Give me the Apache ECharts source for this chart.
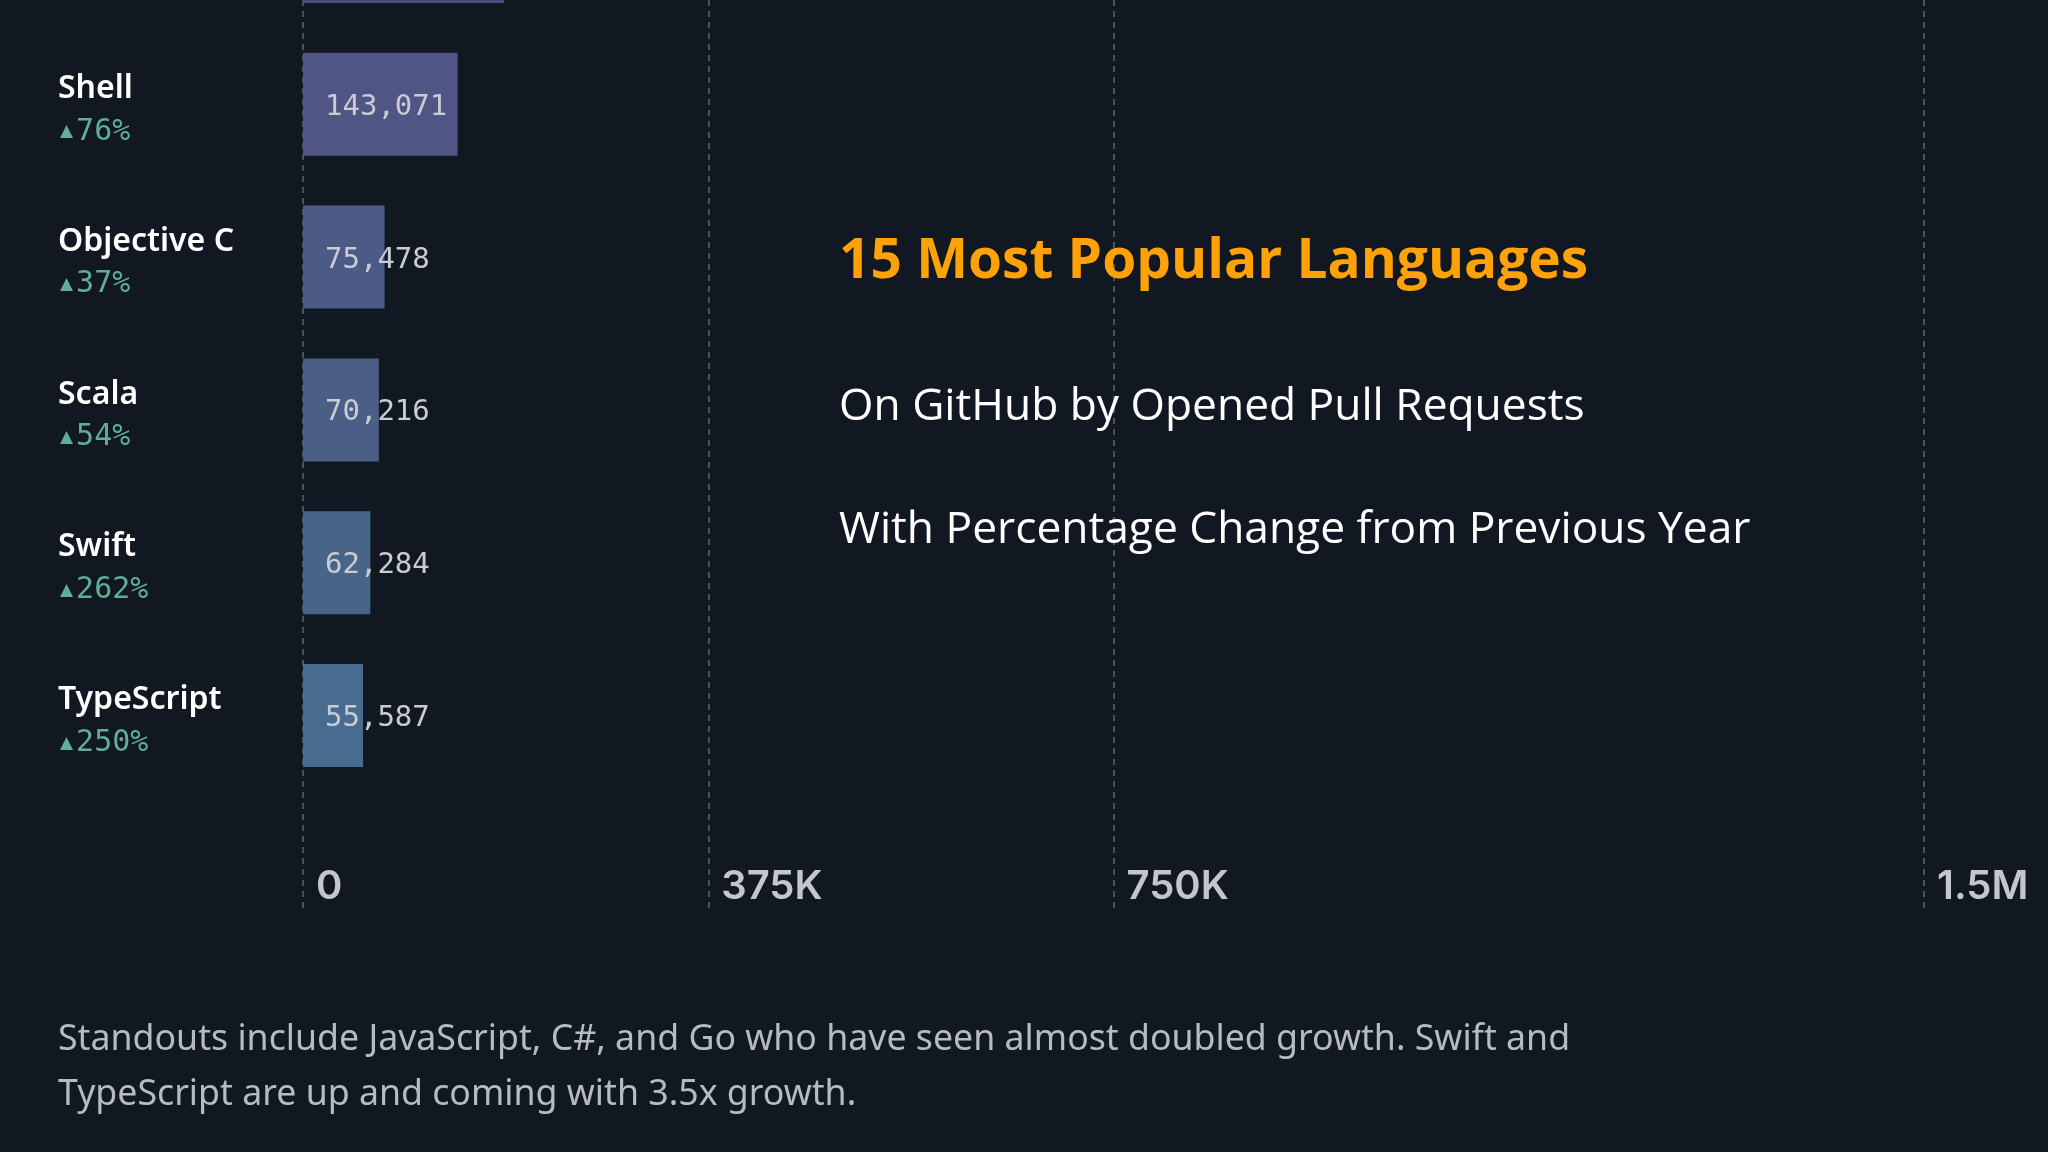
<!DOCTYPE html>
<html>
<head>
<meta charset="utf-8">
<script src="https://cdn.jsdelivr.net/npm/echarts@6/dist/echarts.min.js"></script>
<style>
html,body{margin:0;padding:0;background:#111821;}
#chart{width:2048px;height:1152px;}
</style>
</head>
<body>
<div id="chart"></div>
<script>
// Data (the first row, "C", is scrolled mostly out of view at the top)
var languages = ['C', 'Shell', 'Objective C', 'Scala', 'Swift', 'TypeScript'];
var pullRequests = [186000, 143071, 75478, 70216, 62284, 55587];
var pctChange = [42, 76, 37, 54, 262, 250];
var barColors = ['#4b4b82', '#4f5585', '#4c5b85', '#4a5e86', '#486589', '#486b90'];
var tickValues = [0, 375000, 750000, 1125000, 1500000];
var tickLabels = ['0', '375K', '750K', '', '1.5M'];

var titleText = '15 Most Popular Languages';
var subtitle1 = 'On GitHub by Opened Pull Requests';
var subtitle2 = 'With Percentage Change from Previous Year';
var noteText = 'Standouts include JavaScript, C#, and Go who have seen almost doubled growth. Swift and\nTypeScript are up and coming with 3.5x growth.';

var chart = echarts.init(document.getElementById('chart'), null, {renderer: 'canvas'});

var AX_MAX = 1500000;
var gridLeft = 303, gridRight = 124;

var option = {
  backgroundColor: '#111821',
  animation: false,
  title: [
    {text: titleText, left: 839, top: 233, padding: 0,
     textStyle: {color: '#ffa20a', fontFamily: 'Open Sans', fontWeight: 'bold', fontSize: 55, lineHeight: 58}},
    {text: subtitle1, left: 839, top: 381, padding: 0,
     textStyle: {color: '#ffffff', fontFamily: 'Open Sans', fontWeight: 'normal', fontSize: 44.3, lineHeight: 52}},
    {text: subtitle2, left: 839, top: 504, padding: 0,
     textStyle: {color: '#ffffff', fontFamily: 'Open Sans', fontWeight: 'normal', fontSize: 44.3, lineHeight: 52}},
    {text: noteText, left: 58, top: 1012, padding: 0,
     textStyle: {color: '#b6bac2', fontFamily: 'Noto Sans', fontWeight: 'normal', fontSize: 35.7, lineHeight: 55}}
  ],
  grid: [
    {left: gridLeft, right: gridRight, top: -125, height: 917, outerBoundsMode: 'none', containLabel: false},
    {left: gridLeft, right: gridRight, top: 0, height: 912, outerBoundsMode: 'none', containLabel: false}
  ],
  xAxis: [
    {gridIndex: 0, type: 'value', min: 0, max: AX_MAX, show: false},
    {gridIndex: 1, type: 'value', min: 0, max: AX_MAX, interval: 375000,
     axisLine: {show: false}, axisTick: {show: false},
     splitLine: {show: true, lineStyle: {type: [6, 5], width: 1.5,
       color: ['#5d6573', '#5d6573', '#5d6573', 'rgba(0,0,0,0)', '#5d6573']}},
     axisLabel: {
       show: true, showMinLabel: true, showMaxLabel: true, hideOverlap: false,
       align: 'left', verticalAlign: 'middle', margin: -25, padding: [0, 0, 0, 13],
       color: '#c3c6cc', fontFamily: 'Inter', fontWeight: 600, fontSize: 40,
       formatter: function (v) {
         var i = tickValues.indexOf(v);
         return i >= 0 ? tickLabels[i] : '';
       }
     }}
  ],
  yAxis: [
    {gridIndex: 0, type: 'category', data: languages, inverse: true,
     axisLine: {show: false}, axisTick: {show: false}, splitLine: {show: false},
     axisLabel: {
       show: true, margin: 245, align: 'left', interval: 0,
       padding: [11, 0, 0, 0],
       formatter: function (name, idx) {
         return '{n|' + name + '}\n{t|▲}{p|' + pctChange[idx] + '%}';
       },
       rich: {
         n: {color: '#ffffff', fontFamily: 'Noto Sans', fontWeight: 600, fontSize: 32, lineHeight: 44},
         t: {color: '#5fae95', fontFamily: 'DejaVu Sans', fontSize: 17, lineHeight: 42, padding: [0, 3, 0, 2]},
         p: {color: '#5fae95', fontFamily: 'DejaVu Sans Mono', fontSize: 30, lineHeight: 42}
       }
     }},
    {gridIndex: 1, type: 'value', show: false, min: 0, max: 1}
  ],
  series: [
    {type: 'bar', xAxisIndex: 0, yAxisIndex: 0, barWidth: 103,
     data: pullRequests.map(function (v, i) {
       return {value: v, itemStyle: {color: barColors[i]}};
     }),
     label: {
       show: true, position: 'insideLeft', distance: 22, offset: [0, 3],
       color: '#c9ccd3', fontFamily: 'DejaVu Sans Mono', fontWeight: 'normal', fontSize: 29,
       formatter: function (p) { return p.value.toLocaleString('en-US'); }
     }}
  ]
};
chart.setOption(option);
</script>
</body>
</html>
